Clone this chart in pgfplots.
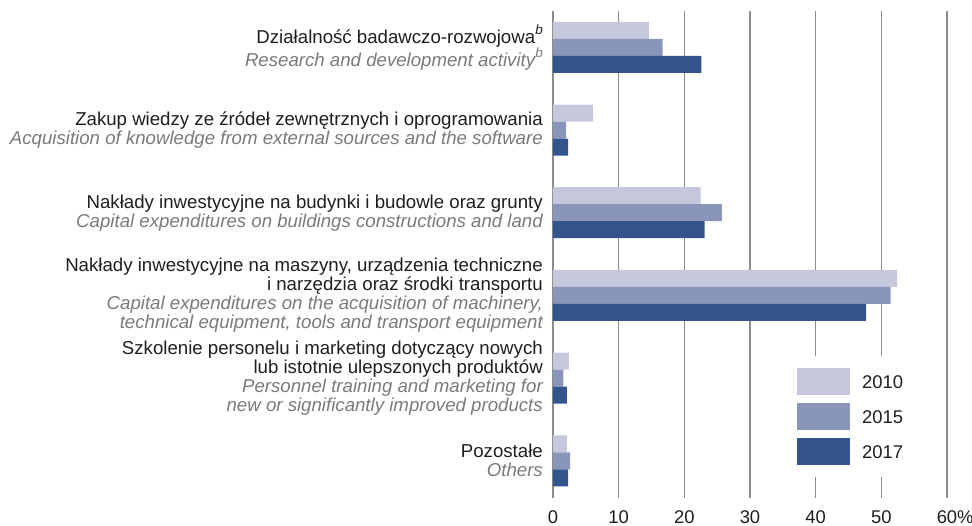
\documentclass[border=0pt]{standalone}
\usepackage{fontspec}
\setmainfont{Liberation Sans}
\usepackage{pgfplots}
\pgfplotsset{compat=1.18}
\definecolor{c10}{HTML}{C5C8DD}
\definecolor{c15}{HTML}{8A95BA}
\definecolor{c17}{HTML}{34558C}
\definecolor{gridc}{HTML}{8C8C8C}
\definecolor{txt}{HTML}{1E1E1E}
\definecolor{txtg}{HTML}{7A7A7A}
\newcommand{\supb}{\raisebox{0.45em}{\fontsize{13.5}{13.5}\selectfont\itshape b}}
\begin{document}
\begin{tikzpicture}
\path[use as bounding box] (-553pt,-27pt) rectangle (419pt,498pt);
\begin{axis}[
  at={(0pt,0pt)}, anchor=south west,
  scale only axis, width=394pt, height=487pt,
  xbar, bar width=17pt,
  xmin=0, xmax=60, ymin=-0.45, ymax=5.44,
  xtick={0,10,...,60},
  xticklabels={0,10,20,30,40,50,60\rlap{\%}},
  ytick={0,1,2,3,4,5},
  yticklabels={
    {Pozostałe\\{\color{txtg}\itshape Others}},
    {Szkolenie personelu i marketing dotyczący nowych\\lub istotnie ulepszonych produktów\\{\color{txtg}\itshape Personnel training and marketing for}\\{\color{txtg}\itshape new or significantly improved products}},
    {Nakłady inwestycyjne na maszyny, urządzenia techniczne\\i narzędzia oraz środki transportu\\{\color{txtg}\itshape Capital expenditures on the acquisition of machinery,}\\{\color{txtg}\itshape technical equipment, tools and transport equipment}},
    {Nakłady inwestycyjne na budynki i budowle oraz grunty\\{\color{txtg}\itshape Capital expenditures on buildings constructions and land}},
    {Zakup wiedzy ze źródeł zewnętrznych i oprogramowania\\{\color{txtg}\itshape Acquisition of knowledge from external sources and the software}},
    {Działalność badawczo-rozwojowa\supb\\{\color{txtg}\itshape Research and development activity\supb}}
  },
  axis line style={draw=none},
  major tick length=0pt,
  xmajorgrids, grid style={gridc, line width=1.1pt},
  xticklabel style={inner sep=0pt, yshift=-12pt, font=\fontsize{18.4}{20}\selectfont, text=txt},
  yticklabel style={inner sep=0pt, xshift=-10pt, align=right, font=\fontsize{18.65}{19}\selectfont, text=txt},
  legend image code/.code={\fill[#1] (0pt,-11.8pt) rectangle (53pt,15.2pt);},
  legend cell align=left,
  legend style={at={(0.6015,0.292)}, anchor=north west, draw=none, fill=white,
    inner xsep=7pt, inner ysep=12pt, row sep=8pt,
    font=\fontsize{18.4}{20}\selectfont, text=txt,
    /tikz/every odd column/.append style={column sep=10pt}},
]
\addplot[fill=c10, draw=none, bar shift=17pt] coordinates {(2.1,0) (2.4,1) (52.4,2) (22.5,3) (6.1,4) (14.6,5)};
\addplot[fill=c15, draw=none, bar shift=0pt] coordinates {(2.6,0) (1.6,1) (51.4,2) (25.7,3) (2.0,4) (16.7,5)};
\addplot[fill=c17, draw=none, bar shift=-17pt] coordinates {(2.3,0) (2.1,1) (47.7,2) (23.1,3) (2.3,4) (22.6,5)};
\legend{2010,2015,2017}
\end{axis}
\end{tikzpicture}
\end{document}
